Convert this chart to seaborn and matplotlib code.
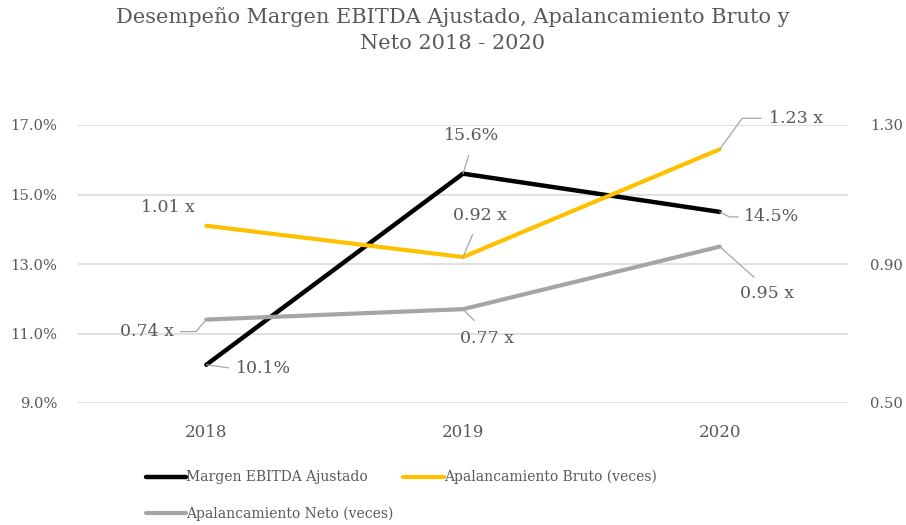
import matplotlib
matplotlib.use("Agg")
import matplotlib.pyplot as plt
import seaborn as sns
import pandas as pd
from matplotlib.ticker import FixedLocator

years = ["2018", "2019", "2020"]
margen = [10.1, 15.6, 14.5]          # % (left axis)
bruto = [1.01, 0.92, 1.23]           # veces (right axis)
neto = [0.74, 0.77, 0.95]            # veces (right axis)

left_ticks = [9.0, 11.0, 13.0, 15.0, 17.0]
right_ticks = [0.50, 0.90, 1.30]

title = "Desempeño Margen EBITDA Ajustado, Apalancamiento Bruto y\nNeto 2018 - 2020"
names = ["Margen EBITDA Ajustado", "Apalancamiento Bruto (veces)", "Apalancamiento Neto (veces)"]

sns.set_theme(style="white")
FONT = ["DejaVu Serif", "Liberation Serif"]
plt.rcParams["font.family"] = FONT

TXT = "#595959"
GRID = "#D9D9D9"
LEAD = "#A6A6A6"
C_M, C_B, C_N = "#000000", "#FFC000", "#A5A5A5"

df = pd.DataFrame({"pos": range(len(years)), "margen": margen, "bruto": bruto, "neto": neto})

fig = plt.figure(figsize=(9.06, 5.25), dpi=100)
ax = fig.add_axes([78 / 906, 1 - 403 / 525, (848 - 78) / 906, (403 - 125) / 525])
ax2 = ax.twinx()

sns.lineplot(data=df, x="pos", y="margen", ax=ax, color=C_M, lw=3.2, label=names[0], legend=False,
             solid_capstyle="round")
sns.lineplot(data=df, x="pos", y="bruto", ax=ax2, color=C_B, lw=3.0, label=names[1], legend=False,
             solid_capstyle="round")
sns.lineplot(data=df, x="pos", y="neto", ax=ax2, color=C_N, lw=3.0, label=names[2], legend=False,
             solid_capstyle="round")

ax.set_xlim(-0.5, len(years) - 0.5)
ax.set_ylim(left_ticks[0], left_ticks[-1])
ax2.set_ylim(right_ticks[0], right_ticks[-1])
ax.set_xticks(range(len(years)))
ax.set_xticklabels(years)
ax.yaxis.set_major_locator(FixedLocator(left_ticks))
ax.set_yticklabels([f"{t:.1f}%" for t in left_ticks])
ax2.yaxis.set_major_locator(FixedLocator(right_ticks))
ax2.set_yticklabels([f"{t:.2f}" for t in right_ticks])
ax.set_xlabel("")
ax.set_ylabel("")
ax2.set_ylabel("")
ax.grid(axis="y", color=GRID, lw=1.1)
ax.set_axisbelow(True)
for a in (ax, ax2):
    for s in a.spines.values():
        s.set_visible(False)
ax.tick_params(axis="x", length=0, colors=TXT, labelsize=12, pad=15)
ax.tick_params(axis="y", length=0, colors=TXT, labelsize=10.6, pad=15)
ax2.tick_params(axis="y", length=0, colors=TXT, labelsize=10.6, pad=16)

fig.suptitle(title, x=0.5, y=0.986, fontsize=15, color=TXT, linespacing=1.45, va="top")

def lab(axis, i, v, text, off, relpos=(0.5, 0.5), conn=None, leader=True, shrink=2):
    props = None
    if leader:
        props = dict(arrowstyle="-", color=LEAD, lw=0.9, shrinkA=shrink, shrinkB=0, relpos=relpos)
        if conn:
            props["connectionstyle"] = conn
    axis.annotate(text, xy=(i, v), xytext=off, textcoords="offset pixels", ha="center", va="center",
                  fontsize=12.5, color=TXT, arrowprops=props)

# label layout: (offset px, leader anchor on text, connection style, leader gap pt)
m_off = [((57, -4), (0, 0.5), None, 3),
         ((9, 38), (0.5, 0), None, 6),
         ((52, -5), (0, 0.5), "angle,angleA=0,angleB=-27,rad=0", 2)]
b_off = [((-38, 18), None, None, 0),
         ((17, 42), (0.45, 0), None, 6),
         ((76, 31), (0, 0.5), "angle,angleA=0,angleB=54,rad=0", 3)]
n_off = [((-59, -12), (1, 0.5), "angle,angleA=0,angleB=49,rad=0", 2),
         ((24, -29), (0.43, 1), None, 6),
         ((47, -47), (0.43, 1), None, 5)]

for i, v in enumerate(margen):
    off, rp, cn, sh = m_off[i]
    lab(ax, i, v, f"{v:.1f}%", off, rp or (0.5, 0.5), cn, rp is not None, sh)
for i, v in enumerate(bruto):
    off, rp, cn, sh = b_off[i]
    lab(ax2, i, v, f"{v:.2f} x", off, rp or (0.5, 0.5), cn, rp is not None, sh)
for i, v in enumerate(neto):
    off, rp, cn, sh = n_off[i]
    lab(ax2, i, v, f"{v:.2f} x", off, rp or (0.5, 0.5), cn, rp is not None, sh)

h1, l1 = ax.get_legend_handles_labels()
h2, l2 = ax2.get_legend_handles_labels()
handles = h1 + h2
labels = l1 + l2
# column-major fill: col1 = Margen, Neto; col2 = Bruto
order = [0, 2, 1]
leg = fig.legend([handles[k] for k in order], [labels[k] for k in order], ncol=2, loc="upper left",
                 bbox_to_anchor=(146 / 906, 1 - 470 / 525),
                 frameon=False, fontsize=10, handlelength=2.9, handletextpad=0.0, columnspacing=0.7,
                 labelspacing=1.6, borderaxespad=0, borderpad=0)
for t in leg.get_texts():
    t.set_color(TXT)

fig.savefig("out.png", dpi=100)
